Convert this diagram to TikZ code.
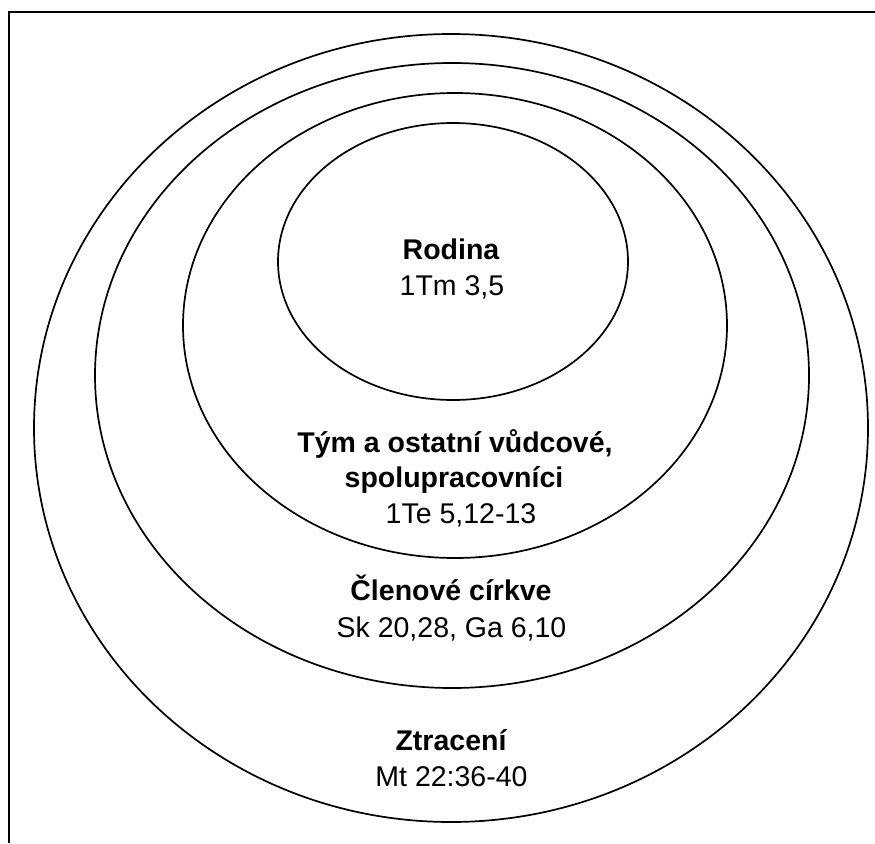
\documentclass[tikz,border=0pt]{standalone}
\usepackage{fontspec}
\setmainfont{Liberation Sans}
\begin{document}
\begin{tikzpicture}[x=1pt,y=-1pt,
  ring/.style={draw=black,line width=1.7pt},
  frameline/.style={draw=black,line width=2pt},
  head/.style={anchor=base,inner sep=0pt,font=\fontsize{28.5}{36}\selectfont\bfseries},
  ref/.style={anchor=base,inner sep=0pt,font=\fontsize{28.5}{36}\selectfont}]
\useasboundingbox (0,0) rectangle (875,843);
\draw[frameline] (9,843) -- (9,12) -- (875,12);
% rings
\draw[ring] (451,428) ellipse [x radius=417, y radius=394];
\draw[ring] (452,375.5) ellipse [x radius=357, y radius=312.5];
\draw[ring] (455,325.5) ellipse [x radius=272, y radius=232.5];
\draw[ring] (453,261.5) ellipse [x radius=175, y radius=138.5];
% labels
\node[head] (rod) at (451,259) {Rodina};
\node[ref]  (rodref) at (452,295) {1Tm 3,5};
\node[head] (tym1) at (455,452) {Tým a ostatní vůdcové,};
\node[head] (tym2) at (454,487) {spolupracovníci};
\node[ref]  (tymref) at (461,523) {1Te 5,12-13};
\node[head] (cle) at (451,600) {Členové církve};
\node[ref]  (cleref) at (451.5,637) {Sk 20,28, Ga 6,10};
\node[head] (ztr) at (451,750) {Ztracení};
\node[ref]  (ztrref) at (451.5,786) {Mt 22:36-40};
\end{tikzpicture}
\end{document}
